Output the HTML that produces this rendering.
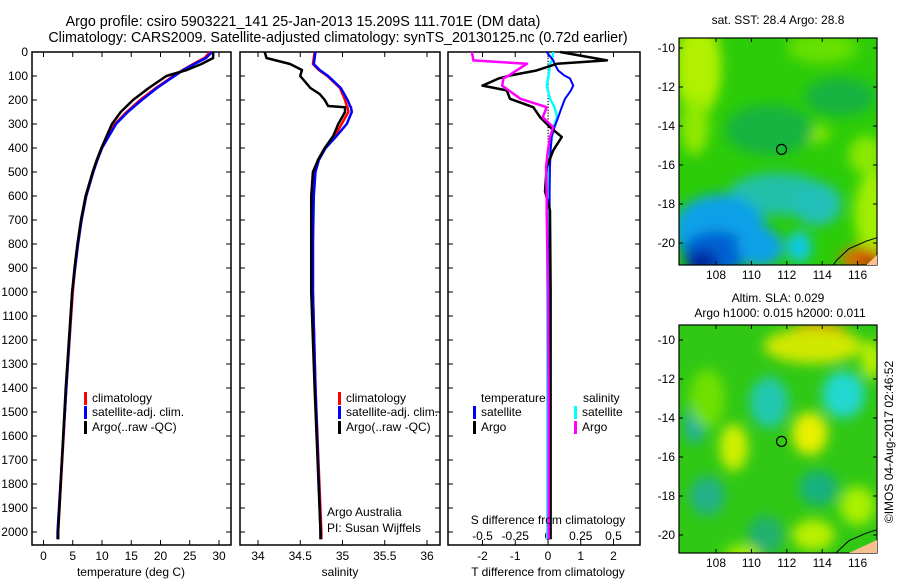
<!DOCTYPE html>
<html><head><meta charset="utf-8"><style>
body{margin:0;background:#fff;}
svg{display:block;font-family:"Liberation Sans",sans-serif;}
</style></head><body>
<svg id="c" width="900" height="580" xmlns="http://www.w3.org/2000/svg">
<defs>
<filter id="bl" x="-50%" y="-50%" width="200%" height="200%"><feGaussianBlur stdDeviation="6"/></filter>
<clipPath id="m1c"><rect x="679" y="38" width="198" height="227"/></clipPath>
<clipPath id="m2c"><rect x="679" y="325" width="198" height="228"/></clipPath>
</defs>
<text x="303" y="26" font-size="14.3" text-anchor="middle">Argo profile: csiro 5903221_141 25-Jan-2013 15.209S 111.701E (DM data)</text>
<text x="338" y="42" font-size="14.3" text-anchor="middle">Climatology: CARS2009. Satellite-adjusted climatology: synTS_20130125.nc (0.72d earlier)</text>
<g id="g"></g>
</svg>
<script>
// ---- data ----
const tDepth=[0,25,50,75,100,150,200,250,300,400,450,500,600,700,800,900,1000,1400,2000,2030];
const tClim=[28.5,27.5,25.6,23.8,22.2,19.2,16.5,14.2,12.2,10.0,9.2,8.5,7.3,6.5,5.9,5.4,5.0,3.9,2.5,2.5];
const tSat=[28.8,27.8,25.8,23.9,22.4,19.4,16.8,14.4,12.4,10.0,9.2,8.5,7.3,6.5,5.9,5.4,4.9,3.9,2.4,2.4];
const tArgo=[29.0,29.0,27.0,24.5,21.0,18.0,15.3,13.2,11.7,9.9,9.1,8.4,7.2,6.4,5.8,5.3,4.9,3.8,2.5,2.5];
const sDepth=[0,25,50,75,100,150,175,200,225,230,250,300,350,400,450,500,600,800,1000,1400,2000,2030];
const sClim=[34.67,34.66,34.65,34.72,34.82,34.97,35.0,35.03,35.05,35.06,35.07,34.99,34.91,34.79,34.71,34.67,34.65,34.65,34.65,34.68,34.75,34.75];
const sSat=[34.68,34.67,34.66,34.73,34.83,34.98,35.02,35.06,35.09,35.1,35.11,35.05,34.93,34.8,34.72,34.68,34.66,34.65,34.65,34.68,34.74,34.74];
const sArgo=[34.08,34.1,34.38,34.52,34.5,34.62,34.73,34.79,34.83,35.03,35.03,34.95,34.89,34.79,34.71,34.65,34.63,34.63,34.63,34.67,34.74,34.74];
const dDepth=[0,35,49,77,98,110,140,160,195,230,272,313,354,410,480,580,660,1000,1500,2030];
const dTArgo=[0.37,1.8,0.27,-0.35,-1.16,-1.5,-2.0,-1.26,-1.16,-0.45,-0.24,0.06,0.42,0.16,-0.04,-0.09,0.06,0.08,0.08,0.08];
const dTSat=[-0.04,0.16,0.2,0.31,0.5,0.67,0.77,0.7,0.52,0.42,0.31,0.2,0.11,0.08,0.06,0.05,0.05,0.04,0.03,0.03];
const dSArgo=[-0.58,-0.57,-0.16,-0.24,-0.3,-0.34,-0.35,-0.3,-0.21,-0.01,-0.04,0.04,0.015,0.0,-0.015,-0.01,-0.01,0.0,0.005,0.005];
const dSSat=[0.04,0.03,0.015,0.01,0.005,0.0,-0.01,0.0,0.015,0.05,0.07,0.04,0.03,0.015,0.01,-0.005,-0.005,-0.005,-0.005,-0.005];
const depthTicks=[0,100,200,300,400,500,600,700,800,900,1000,1100,1200,1300,1400,1500,1600,1700,1800,1900,2000];
const tempTicks=[0,5,10,15,20,25,30];
const salTicks=[34,34.5,35,35.5,36];
const tdTicks=[-2,-1,0,1,2];
const sdTicks=[-0.5,-0.25,0,0.25,0.5];
const latTicks=[-10,-12,-14,-16,-18,-20];
const lonTicks=[108,110,112,114,116];

const NS='http://www.w3.org/2000/svg';
const G=document.getElementById('g');
function mk(tag,at,parent){const e=document.createElementNS(NS,tag);for(const k in at)e.setAttribute(k,at[k]);(parent||G).appendChild(e);return e;}
const Y=d=>52+d*0.24;
const xT=v=>43.5+v*5.85, xS=v=>258+(v-34)*84.5, xTD=v=>548+v*32.75, xSD=v=>548+v*131;

function panel(x0,x1,name){
  const r=mk('rect',{x:x0,y:52,width:x1-x0,height:493,fill:'none',stroke:'#000','stroke-width':1.5});
  
  
  depthTicks.forEach(d=>{mk('line',{x1:x0,x2:x0+5,y1:Y(d),y2:Y(d),stroke:'#000'});mk('line',{x1:x1-5,x2:x1,y1:Y(d),y2:Y(d),stroke:'#000'});});
}
function xticks(vals,f,y,labels){vals.forEach((v,i)=>{const x=f(v);mk('line',{x1:x,x2:x,y1:52,y2:57,stroke:'#000'});mk('line',{x1:x,x2:x,y1:540,y2:545,stroke:'#000'});
 if(labels){const t=mk('text',{x:x,y:y,'font-size':12,'text-anchor':'middle'});t.textContent=labels[i];
 
 }});}
function line(xs,ds,f,col,name,w){const p=mk('polyline',{points:xs.map((v,i)=>f(v)+','+Y(ds[i])).join(' '),fill:'none',stroke:col,'stroke-width':w||2.5,'stroke-linejoin':'round'});
 
 }
function txt(x,y,s,name,anchor,size){const t=mk('text',{x:x,y:y,'font-size':size||12,'text-anchor':anchor||'start'});t.textContent=s;
 
 return t;}
function leg(x,y,col,s,name){mk('rect',{x:x,y:y-10,width:3,height:13,fill:col});txt(x+8,y,s,name);}

// panel 1
panel(32,231,'temperature-panel');
depthTicks.forEach(d=>{txt(28,Y(d)+4,String(d),'depth-tick-label','end');});
xticks(tempTicks,xT,560,tempTicks.map(String));
line(tClim,tDepth,xT,'#f00','temp-climatology-line');
line(tSat,tDepth,xT,'#00f','temp-satellite-line');
line(tArgo,tDepth,xT,'#000','temp-argo-line');
txt(131,576,'temperature (deg C)','x-axis-title-temperature','middle');
leg(84,402,'#f00','climatology','legend-climatology');
leg(84,416,'#00f','satellite-adj. clim.','legend-satellite');
leg(84,431,'#000','Argo(..raw -QC)','legend-argo');

// panel 2
panel(240,440,'salinity-panel');
xticks(salTicks,xS,560,salTicks.map(String));
line(sClim,sDepth,xS,'#f00','sal-climatology-line');
line(sSat,sDepth,xS,'#00f','sal-satellite-line');
line(sArgo,sDepth,xS,'#000','sal-argo-line');
txt(340,576,'salinity','x-axis-title-salinity','middle');
leg(338,402,'#f00','climatology','legend-climatology-2');
leg(338,416,'#00f','satellite-adj. clim.','legend-satellite-2');
leg(338,431,'#000','Argo(..raw -QC)','legend-argo-2');
txt(327,516,'Argo Australia','pi-institution');
txt(327,532,'PI: Susan Wijffels','pi-name');

// panel 3
panel(448,640,'difference-panel');
xticks(tdTicks,xTD,560,tdTicks.map(String));
sdTicks.forEach(v=>{txt(xSD(v),540,String(v),'s-diff-tick-label','middle');});
for(let d=0;d<2050;d+=12)mk('rect',{x:547.5,y:Y(d),width:1.2,height:1.2,fill:'#000'});
line(dSSat,dDepth,xSD,'#0ff','sdiff-satellite-line',2.5);
line(dTSat,dDepth,xTD,'#00f','tdiff-satellite-line',2);
line(dTArgo,dDepth,xTD,'#000','tdiff-argo-line',2.5);
line(dSArgo,dDepth,xSD,'#f0f','sdiff-argo-line',2.5);
txt(548,576,'T difference from climatology','x-axis-title-tdiff','middle');
txt(548,524,'S difference from climatology','x-axis-title-sdiff','middle');
txt(481,402,'temperature','legend-temperature-header');
txt(583,402,'salinity','legend-salinity-header');
leg(473,416,'#00f','satellite','legend-t-satellite');
leg(473,431,'#000','Argo','legend-t-argo');
leg(574,416,'#0ff','satellite','legend-s-satellite');
leg(574,431,'#f0f','Argo','legend-s-argo');

// maps
const lonX=v=>716+(v-108)*17.7;
function map(y0,h,latY,clip,blobs,name,coast){
  const g=mk('g',{'clip-path':'url(#'+clip+')'});
  
  
  mk('rect',{x:679,y:y0,width:198,height:h,fill:blobs.base},g);
  const gb=mk('g',{filter:'url(#bl)'},g);
  blobs.list.forEach(b=>mk('ellipse',{cx:lonX(b[0]),cy:latY(b[1]),rx:b[2]*17.7,ry:b[3]*19.5,fill:b[4]},gb));
  mk('polyline',{points:coast.map(c=>lonX(c[0])+','+latY(c[1])).join(' '),fill:'none',stroke:'#000','stroke-width':1},g);
  mk('circle',{cx:lonX(111.7),cy:latY(-15.2),r:5,fill:'none',stroke:'#000','stroke-width':1.2},g);
  mk('rect',{x:679,y:y0,width:198,height:h,fill:'none',stroke:'#000','stroke-width':1.2});
  latTicks.forEach(l=>{const y=latY(l);mk('line',{x1:679,x2:683,y1:y,y2:y,stroke:'#000'});mk('line',{x1:873,x2:877,y1:y,y2:y,stroke:'#000'});txt(675,y+4,String(l),'lat-tick-label','end');});
  lonTicks.forEach(l=>{const x=lonX(l);mk('line',{x1:x,x2:x,y1:y0,y2:y0+4,stroke:'#000'});mk('line',{x1:x,x2:x,y1:y0+h-4,y2:y0+h,stroke:'#000'});txt(x,y0+h+14,String(l),'lon-tick-label','middle');});
}
const coast=[[117.2,-19.7],[116.5,-19.9],[115.5,-20.3],[114.8,-20.9],[114.5,-21.3]];
map(38,227,l=>48+(-10-l)*19.5,'m1c',{base:'#2ccc08',list:[
 [107,-11,1.3,2.5,'#b0f000'],[106.8,-14,0.8,1.5,'#90e800'],[114,-10,2,0.8,'#66e000'],
 [113,-14.4,1.5,0.5,'#88e800'],[116.5,-15.5,1,1,'#88e800'],[117,-18.5,1.2,2.2,'#a0ee00'],
 [111,-14.2,2.5,1.3,'#18b440'],[115,-12.5,2,1,'#18b440'],
 [111.5,-17.5,2.8,1.1,'#20c0a8'],[113.7,-18,1.4,1.1,'#20c0b8'],
 [108.2,-19.3,2.6,1.8,'#10a0e8'],[108,-20.5,1.9,1.1,'#0060d0'],[107.2,-21,0.9,0.6,'#0020a0'],[110.5,-20.2,1.3,1,'#10a0e8'],[112.7,-20.2,0.7,0.8,'#10c8e8'],
 [116.2,-20.8,1.2,0.6,'#e07000'],[116.6,-20.9,0.6,0.4,'#c04000']
]},'sst-map',coast);
mk('path',{d:'M'+lonX(116.5)+',265 L'+lonX(117.1)+',255 L877,265 Z',fill:'#f8c090'});
map(325,228,l=>340+(-10-l)*19.5,'m2c',{base:'#30c814',list:[
 [113.8,-9.7,1.6,0.7,'#e08000'],[113.5,-10.3,2.8,0.9,'#d0e800'],[116.8,-11,0.6,1,'#b8f000'],
 [111,-13.2,1.1,1.3,'#20c8b0'],[115.2,-12.8,1.2,1.2,'#20d8d0'],[106.8,-14.3,0.6,1,'#20b0a0'],
 [113.3,-14.8,1,1.1,'#e8f000'],[109,-15.5,0.8,1.2,'#d0f000'],[107.5,-13,1,1.5,'#70e000'],
 [113.8,-17.6,1.1,0.9,'#18b080'],[107.5,-18,1,1,'#20b088'],[110.8,-20,1,1,'#20b070'],
 [113.5,-20,1.2,0.8,'#b8f000'],[116,-18.5,1,1,'#a8f000'],[109.5,-21,1,0.5,'#a8f000']
]},'sla-map',coast);
mk('path',{d:'M'+lonX(115.5)+',553 L'+lonX(117.1)+',540 L877,553 Z',fill:'#f8c090'});
txt(778,24,'sat. SST: 28.4 Argo: 28.8','sst-map-title','middle');
txt(778,302,'Altim. SLA: 0.029','sla-map-title','middle');
txt(780,317,'Argo h1000: 0.015 h2000: 0.011','argo-height-title','middle');
const v=txt(0,0,'©IMOS 04-Aug-2017 02:46:52','imos-credit','middle');
v.setAttribute('transform','translate(893,442) rotate(-90)');
</script>
</body></html>
